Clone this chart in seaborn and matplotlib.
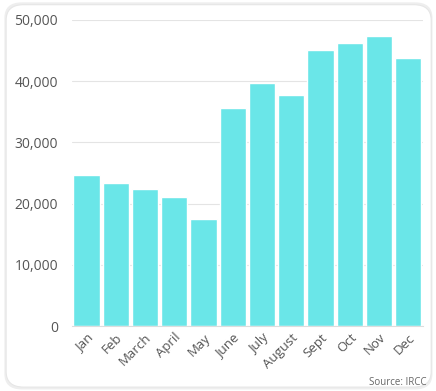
import matplotlib
matplotlib.use('Agg')
import matplotlib.pyplot as plt
from matplotlib.patches import FancyBboxPatch
from matplotlib.ticker import FuncFormatter
import pandas as pd
import seaborn as sns

months = ['Jan', 'Feb', 'March', 'April', 'May', 'June', 'July', 'August', 'Sept', 'Oct', 'Nov', 'Dec']
values = [24700, 23300, 22400, 21100, 17500, 35700, 39650, 37800, 45100, 46300, 47400, 43800]
yticks = [0, 10000, 20000, 30000, 40000, 50000]

df = pd.DataFrame({'month': months, 'value': values})

sns.set_style('white')
plt.rcParams['font.family'] = ['Open Sans', 'DejaVu Sans']

fig = plt.figure(figsize=(4.36, 3.91), dpi=100)

# card background with soft border, drawn behind the axes
shadow = FancyBboxPatch((0.010, 0.004), 0.982, 0.990, boxstyle='round,pad=0,rounding_size=0.04',
                        transform=fig.transFigure, facecolor='#eeeeee', edgecolor='none', zorder=-10)
card = FancyBboxPatch((0.014, 0.010), 0.975, 0.978, boxstyle='round,pad=0,rounding_size=0.04',
                      transform=fig.transFigure, facecolor='white', edgecolor='#e6e6e6', lw=0.8, zorder=-9)
fig.patches.extend([shadow, card])

ax = fig.add_axes([0.165, 0.166, 0.805, 0.783])
ax.patch.set_alpha(0)
sns.barplot(data=df, x='month', y='value', color='#6AE6E8', saturation=1, width=0.9, ax=ax, zorder=2)

ax.set_ylim(0, 50000)
ax.set_xlim(-0.5, len(months) - 0.5)
ax.set_yticks(yticks)
ax.yaxis.set_major_formatter(FuncFormatter(lambda v, p: '{:,.0f}'.format(v)))
ax.grid(axis='y', color='#e4e4e4', lw=0.8, zorder=0)
for s in ['top', 'right', 'left']:
    ax.spines[s].set_visible(False)
ax.spines['bottom'].set_color('#dddddd')
ax.tick_params(axis='both', length=0, colors='#555555', labelsize=10)
ax.tick_params(axis='y', pad=10)
plt.setp(ax.get_xticklabels(), rotation=45, ha='right', rotation_mode='anchor', fontsize=9.5)
ax.set_xlabel('')
ax.set_ylabel('')

fig.text(0.978, 0.008, 'Source: IRCC', ha='right', va='bottom', fontsize=7, color='#666666')

fig.savefig('out.png', dpi=100)
